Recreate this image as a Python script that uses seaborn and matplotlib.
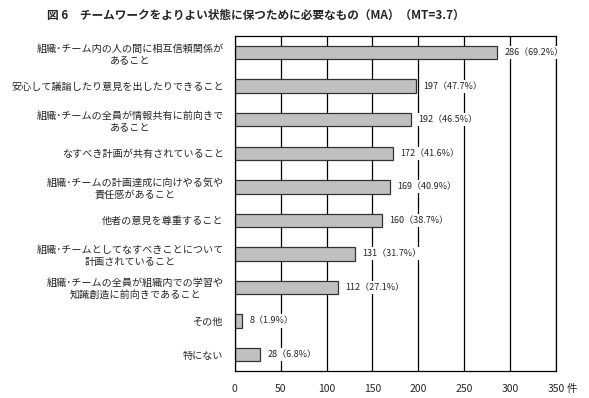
import matplotlib
matplotlib.use("Agg")
import pandas as pd
import seaborn as sns
import matplotlib.pyplot as plt

# data
labels = [
    "組織･チーム内の人の間に相互信頼関係が\nあること",
    "安心して議論したり意見を出したりできること",
    "組織･チームの全員が情報共有に前向きで\nあること",
    "なすべき計画が共有されていること",
    "組織･チームの計画達成に向けやる気や\n責任感があること",
    "他者の意見を尊重すること",
    "組織･チームとしてなすべきことについて\n計画されていること",
    "組織･チームの全員が組織内での学習や\n知識創造に前向きであること",
    "その他",
    "特にない",
]
counts = [286, 197, 192, 172, 169, 160, 131, 112, 8, 28]
percents = [69.2, 47.7, 46.5, 41.6, 40.9, 38.7, 31.7, 27.1, 1.9, 6.8]
xticks = [0, 50, 100, 150, 200, 250, 300, 350]

sns.set_style("white")
plt.rcParams['font.family'] = ['Noto Sans CJK JP', 'DejaVu Sans']

df = pd.DataFrame({"label": labels, "count": counts})

fig = plt.figure(figsize=(5.89, 3.98), dpi=100)
ax = fig.add_axes([0.3985, 0.067, 0.5455, 0.843])

sns.barplot(data=df, x="count", y="label", orient="h", color="#c0c0c0",
            edgecolor="#333333", linewidth=0.9, width=0.4, saturation=1, ax=ax)

ax.set_xlim(0, 350)
ax.set_xticks(xticks)
ax.set_xticklabels([str(t) for t in xticks], fontsize=7.5)
ax.grid(axis="x", color="black", linewidth=0.9)
ax.set_axisbelow(True)
ax.set_xlabel("")
ax.set_ylabel("")
ax.tick_params(axis="both", length=0)
ax.tick_params(axis="x", pad=9)
ax.tick_params(axis="y", pad=8)
for t in ax.get_yticklabels():
    t.set_fontsize(7.25)
    t.set_multialignment("center")
for s in ax.spines.values():
    s.set_color("black")
    s.set_linewidth(0.9)

# value labels sit on white boxes that cut the grid lines
for i, (c, p) in enumerate(zip(counts, percents)):
    ax.text(c + 8, i, f"{c}（{p}%）", va="center", ha="left", fontsize=6.5,
            bbox=dict(facecolor="white", edgecolor="none", pad=1.5))

# unit after the last tick label
ax.annotate("件", xy=(1.0, 0), xycoords="axes fraction", xytext=(8, -9),
            textcoords="offset points", ha="left", va="top", fontsize=7.5)

fig.text(0.435, 0.962, "図 6　チームワークをよりよい状態に保つために必要なもの（MA）（MT=3.7）",
         ha="center", va="center", fontsize=8.4, fontweight="bold")

fig.savefig("out.png", dpi=100)
